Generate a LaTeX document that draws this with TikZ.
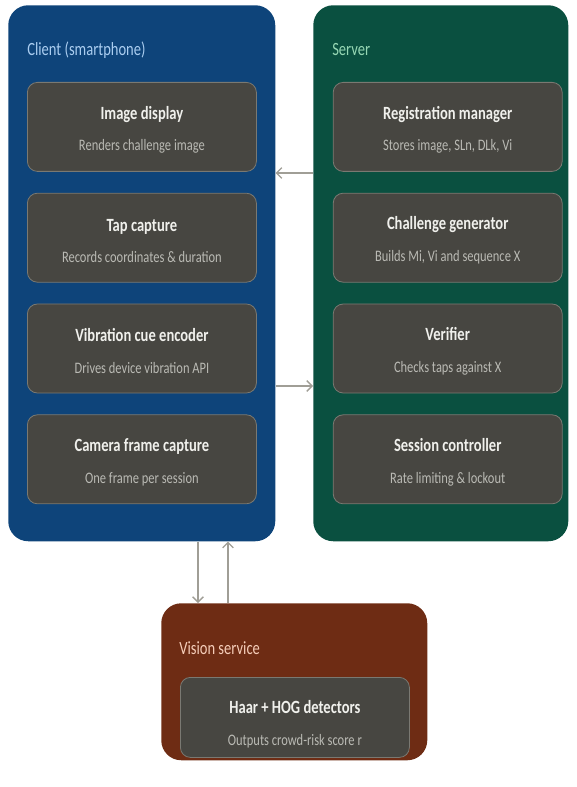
\documentclass[tikz,border=0pt]{standalone}
\usepackage{fontspec}
\setmainfont{Carlito}[FakeStretch=0.78]
\usetikzlibrary{positioning,arrows.meta}

\definecolor{clientblue}{RGB}{14,68,122}
\definecolor{servergreen}{RGB}{10,80,64}
\definecolor{visionrust}{RGB}{110,44,20}
\definecolor{compfill}{RGB}{71,70,65}
\definecolor{compline}{RGB}{122,121,114}
\definecolor{subgray}{RGB}{186,186,180}
\definecolor{titlewhite}{RGB}{240,240,236}
\definecolor{clienttxt}{RGB}{170,205,240}
\definecolor{servertxt}{RGB}{150,215,180}
\definecolor{visiontxt}{RGB}{245,205,185}
\definecolor{flowgray}{RGB}{160,158,150}

\tikzset{
  container/.style={rounded corners=15pt, anchor=north west, inner sep=0pt},
  comp/.style={draw=compline, fill=compfill, line width=0.6pt, rounded corners=7.5pt,
    minimum width=171.75pt, minimum height=66.75pt, align=center, inner sep=0pt,
    text=titlewhite, font=\fontsize{14}{17}\selectfont\bfseries},
  grouptitle/.style={anchor=west, inner sep=0pt, font=\fontsize{14}{16}\selectfont},
  flow/.style={draw=flowgray, line width=1pt, -{Straight Barb[length=4pt,width=8pt]}},
  node distance=15.75pt
}
\newcommand{\comptext}[3][14]{\rule{0pt}{#1pt}#2\\[6.75pt]{\fontsize{12}{14}\selectfont\mdseries\color{subgray}#3}}

\begin{document}
\begin{tikzpicture}
  \useasboundingbox (0,0) rectangle (432pt,-590.25pt);

  \node (client) [container, fill=clientblue, minimum width=200.25pt, minimum height=402pt] at (6pt,-3.75pt) {};
  \node (server) [container, fill=servergreen, minimum width=191.25pt, minimum height=402pt] at (234.75pt,-3.75pt) {};
  \node (vision) [container, fill=visionrust, minimum width=199.5pt, minimum height=117.75pt] at (120.75pt,-452.25pt) {};

  \node (clienttitle) [grouptitle, text=clienttxt] at (20.25pt,-37.5pt) {Client (smartphone)};
  \node (servertitle) [grouptitle, text=servertxt] at (249pt,-37.5pt) {Server};
  \node (visiontitle) [grouptitle, text=visiontxt] at (134.25pt,-486pt) {Vision service};

  \node (imgdisp) [comp, anchor=north west] at (20.25pt,-61.5pt) {\comptext{Image display}{Renders challenge image}};
  \node (tapcap) [comp, below=of imgdisp] {\comptext{Tap capture}{Records coordinates \& duration}};
  \node (vibenc) [comp, below=of tapcap] {\comptext{Vibration cue encoder}{Drives device vibration API}};
  \node (camcap) [comp, below=of vibenc] {\comptext{Camera frame capture}{One frame per session}};

  \node (regman) [comp, right=57pt of imgdisp] {\comptext{Registration manager}{Stores image, SLn, DLk, Vi}};
  \node (chalgen) [comp, right=57pt of tapcap] {\comptext{Challenge generator}{Builds Mi, Vi and sequence X}};
  \node (verifier) [comp, right=57pt of vibenc] {\comptext{Verifier}{Checks taps against X}};
  \node (sessctl) [comp, right=57pt of camcap] {\comptext{Session controller}{Rate limiting \& lockout}};

  \node (detect) [comp, anchor=north west, minimum height=60pt] at (135pt,-507.75pt) {\comptext[20]{Haar + HOG detectors}{Outputs crowd-risk score r}};

  \draw[flow] (server.west |- 0,-129.75pt) -- (client.east |- 0,-129.75pt);
  \draw[flow] (client.east |- 0,-289.5pt) -- (server.west |- 0,-289.5pt);
  \draw[flow] (client.south -| 148.5pt,0) -- (vision.north -| 148.5pt,0);
  \draw[flow] (vision.north -| 171pt,0) -- (client.south -| 171pt,0);
\end{tikzpicture}
\end{document}
